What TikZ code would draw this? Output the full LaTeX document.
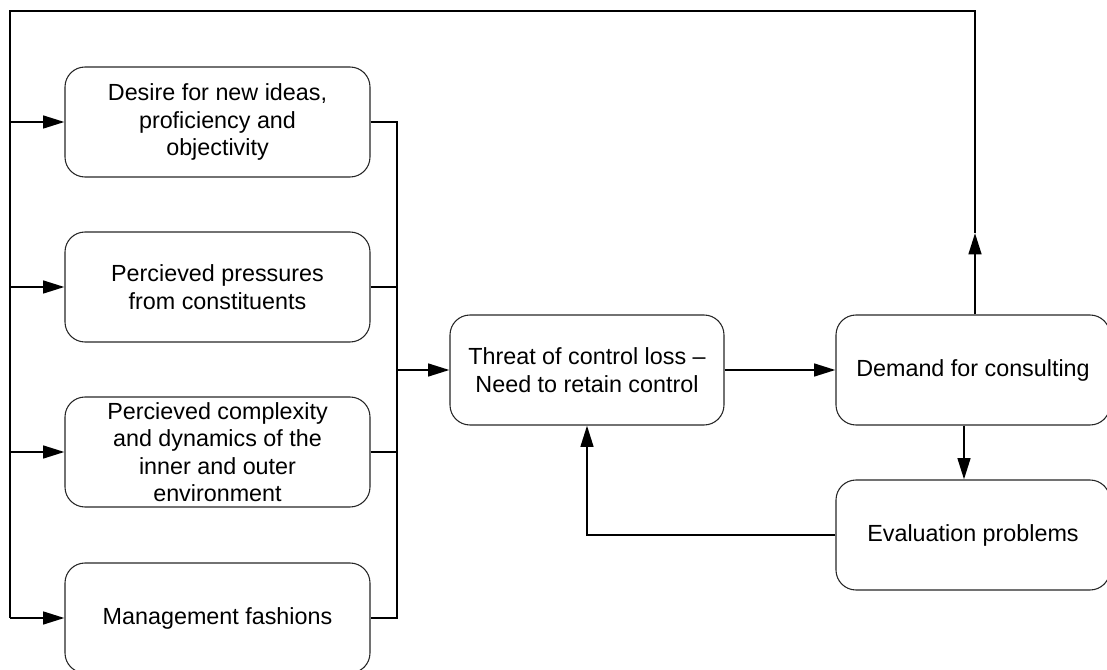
\documentclass[tikz,border=0pt]{standalone}
\usepackage{fontspec}
\setmainfont{Liberation Sans}
\usetikzlibrary{arrows.meta, positioning, calc}
\tikzset{
  box/.style={draw=black!85, line width=0.8pt, rounded corners=15pt, align=center,
    inner sep=0pt, minimum width=228.75pt, minimum height=82.5pt,
    font=\fontsize{17.5}{20.5}\selectfont},
  midbox/.style={box, minimum width=205.5pt},
  link/.style={line width=1.8pt},
  flow/.style={link, -{Triangle[length=16pt,width=9.5pt]}},
}
\begin{document}
\begin{tikzpicture}[x=0.75pt, y=-0.75pt]
  \useasboundingbox (0,0) rectangle (1107,670);
  \clip (0,0) rectangle (1107,670);
  % drivers on the left
  \node[box] (desire) at (217.5,122) {Desire for new ideas,\\proficiency and\\objectivity};
  \node[box] (pressure) at (217.5,287) {Percieved pressures\\from constituents};
  \node[box] (complex) at (217.5,452) {Percieved complexity\\and dynamics of the\\inner and outer\\environment};
  \node[box] (fashion) at (217.5,618) {Management fashions};
  % centre and right
  \node[midbox] (threat) at (587,370) {Threat of control loss --\\Need to retain control};
  \node[midbox] (demand) at (973,370) {Demand for consulting};
  \node[midbox] (evalp) at (973,535) {Evaluation problems};
  \coordinate (join) at (397,370);
  \coordinate (upmid) at (975,233);
  \coordinate (topright) at (975,11);
  \coordinate (topleft) at (10,11);
  \coordinate (botleft) at (10,618);
  % collect the drivers
  \draw[link] (desire.east) -| (join) |- (fashion.east);
  \draw[line width=0.8pt] (pressure.east) -- (join |- pressure.east);
  \draw[line width=0.8pt] (complex.east) -- (join |- complex.east);
  \draw[flow] (join) -- (threat.west);
  \draw[flow] (threat.east) -- (demand.west);
  \draw[flow] ($(demand.south)+(-9,0)$) -- ($(evalp.north)+(-9,0)$);
  \draw[flow] (evalp.west) -| (threat.south);
  % feedback loop over the top
  \draw[flow] (demand.north -| upmid) -- (upmid);
  \draw[link] (upmid) -- (topright) -- (topleft) -- (botleft);
  \foreach \n in {desire,pressure,complex,fashion}
    \draw[flow] (topleft |- \n.west) -- (\n.west);
\end{tikzpicture}
\end{document}
